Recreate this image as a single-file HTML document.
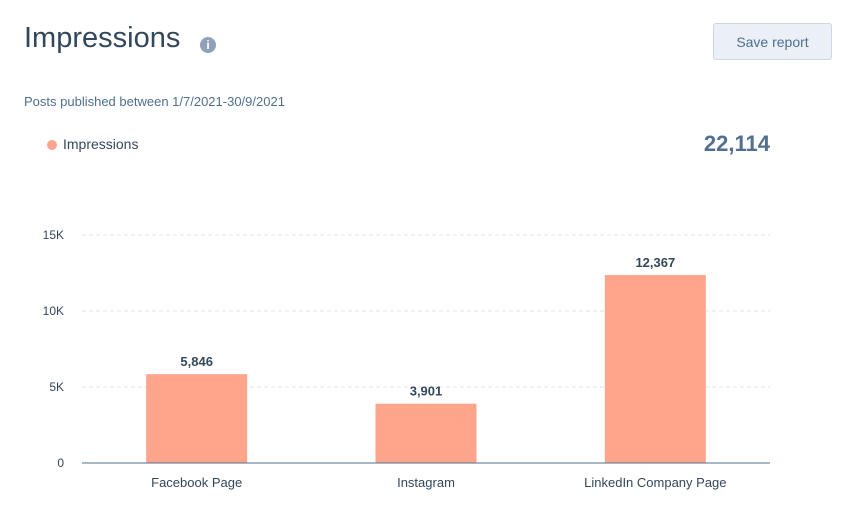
<!DOCTYPE html>
<html><head><meta charset="utf-8">
<style>
body{margin:0;width:845px;height:526px;background:#fff;font-family:"Liberation Sans",sans-serif;position:relative;overflow:hidden;color:#33475b}
.abs{position:absolute}
</style></head><body>
<div class="abs" style="left:24px;top:22px;font-size:29px;color:#33475b;font-weight:300">Impressions</div>
<div class="abs" style="left:200px;top:37px;width:16px;height:16px;border-radius:50%;background:#8fa2b8;color:#fff;font-size:12px;font-weight:bold;text-align:center;line-height:16px">i</div>
<div class="abs" style="left:713px;top:23px;width:119px;height:37px;box-sizing:border-box;border:1px solid #cbd6e2;border-radius:3px;background:#eaf0f6;font-size:14px;color:#506e91;text-align:center;line-height:36px">Save report</div>
<div class="abs" style="left:24px;top:94px;font-size:13px;color:#516f90">Posts published between 1/7/2021-30/9/2021</div>
<div class="abs" style="left:47px;top:140px;width:10px;height:10px;border-radius:50%;background:#ffa58c"></div>
<div class="abs" style="left:63px;top:136px;font-size:14px;color:#33475b">Impressions</div>
<div class="abs" style="right:75px;top:131px;font-size:22px;font-weight:bold;color:#516f90">22,114</div>
<svg class="abs" style="left:0;top:0" width="845" height="526" id="chart"></svg>
<script>
const categories=["Facebook Page","Instagram","LinkedIn Company Page"];
const values=[5846,3901,12367];
const ticks=[0,5000,10000,15000];
const tickLabels=["0","5K","10K","15K"];
const svg=document.getElementById('chart');
const NS="http://www.w3.org/2000/svg";
const x0=82,x1=770,yBase=463,yTop=235,yMax=15000;
const y=v=>yBase-(v/yMax)*(yBase-yTop);
const band=(x1-x0)/categories.length;
const bw=101;
function mk(t,a){const e=document.createElementNS(NS,t);for(const k in a)e.setAttribute(k,a[k]);svg.appendChild(e);return e;}
ticks.forEach((t,i)=>{
  if(t>0){const g=mk('line',{x1:x0,x2:x1,y1:y(t),y2:y(t),stroke:'#dfe3eb','stroke-dasharray':'4,3'});
  
  }
  const l=mk('text',{x:64,y:y(t)+4,'text-anchor':'end','font-size':12,fill:'#33475b','font-family':'Liberation Sans'});
  l.textContent=tickLabels[i];
  
  
});
categories.forEach((c,i)=>{
  const cx=x0+band*(i+0.5);
  const r=mk('rect',{x:cx-bw/2,y:y(values[i]),width:bw,height:yBase-y(values[i]),fill:'#ffa58c'});
  
  
  const v=mk('text',{x:cx,y:y(values[i])-8,'text-anchor':'middle','font-size':13,'font-weight':'bold',fill:'#33475b','font-family':'Liberation Sans'});
  v.textContent=values[i].toLocaleString('en-US');
  
  
  const l=mk('text',{x:cx,y:yBase+24,'text-anchor':'middle','font-size':13,fill:'#33475b','font-family':'Liberation Sans'});
  l.textContent=c;
  
  
});
const ax=mk('line',{x1:x0,x2:x1,y1:yBase,y2:yBase,stroke:'#516f90','stroke-width':1});


</script>
</body></html>
